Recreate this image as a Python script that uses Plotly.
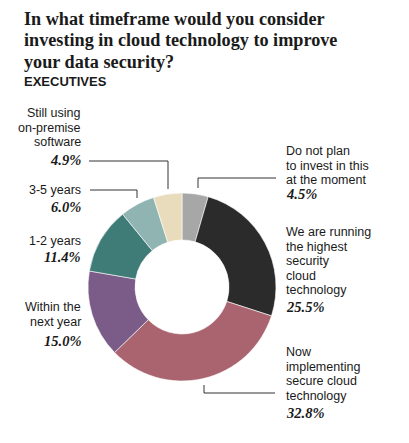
import plotly.graph_objects as go

# the page body has an 8px margin; the figure is sized to fit inside the window
OFF = 8
W, H = 409 - 2 * OFF, 443 - 2 * OFF

# ---- data ----
categories = [
    "Do not plan\nto invest in this\nat the moment",
    "We are running\nthe highest\nsecurity\ncloud\ntechnology",
    "Now\nimplementing\nsecure cloud\ntechnology",
    "Within the\nnext year",
    "1-2 years",
    "3-5 years",
    "Still using\non-premise\nsoftware",
]
values = [4.5, 25.5, 32.8, 15.0, 11.4, 6.0, 4.9]
colors = ["#a7a7a7", "#2b2b2b", "#a9646f", "#7b5b87", "#3f7c77", "#8fb4b2", "#e8dcbc"]

title_lines = ["In what timeframe would you consider",
               "investing in cloud technology to improve",
               "your data security?"]
subtitle = "EXECUTIVES"

# ---- layout helpers (window pixel -> paper) ----
def px(x):
    return (x - OFF) / W

def py(y):
    return 1 - (y - OFF) / H

cx, cy, r = 182, 287, 94

fig = go.Figure(go.Pie(
    labels=[c.replace("\n", " ") for c in categories],
    values=values,
    marker=dict(colors=colors, line=dict(color="white", width=0.6)),
    hole=0.5,
    sort=False,
    direction="clockwise",
    rotation=0,
    textinfo="none",
    hoverinfo="label+percent",
    showlegend=False,
    domain=dict(x=[px(cx - r), px(cx + r)], y=[py(cy + r), py(cy - r)]),
))

ann = []
# title
for i, t in enumerate(title_lines):
    ann.append(dict(text=t, x=px(22), y=py(19 + i * 21.5), xref="paper", yref="paper",
                    xanchor="left", yanchor="middle", showarrow=False,
                    font=dict(family="Liberation Serif", size=18.2, color="#1a1a1a", weight="bold")))
ann.append(dict(text=subtitle, x=px(22), y=py(82), xref="paper", yref="paper",
                xanchor="left", yanchor="middle", showarrow=False,
                font=dict(family="Liberation Sans", size=13, color="#1a1a1a", weight="bold")))

# label placements: (anchor x, first line y center, side, percent y center)
placements = [
    (284, 151, "left", 194),
    (284, 232, "left", 307),
    (284, 352, "left", 413),
    (83, 307, "right", 341),
    (83, 241, "right", 257),
    (83, 190, "right", 207),
    (83, 113, "right", 160),
]
LH = 14.6
for cat, val, (ax, ay, side, pyy) in zip(categories, values, placements):
    for j, line in enumerate(cat.split("\n")):
        ann.append(dict(text=line, x=px(ax), y=py(ay + j * LH), xref="paper", yref="paper",
                        xanchor=side, yanchor="middle", showarrow=False,
                        font=dict(family="Liberation Sans", size=12.5, color="#1a1a1a")))
    ann.append(dict(text=f"{val:.1f}%", x=px(ax), y=py(pyy), xref="paper", yref="paper",
                    xanchor=side, yanchor="middle", showarrow=False,
                    font=dict(family="Liberation Serif", size=14.5, color="#1a1a1a",
                              weight="bold", style="italic")))

# leader lines (pixel polylines)
leaders = [
    [(276, 178), (198, 178), (198, 188)],
    [(275, 393), (204, 393), (204, 385)],
    [(89, 161), (168, 161), (168, 189)],
    [(90, 190), (137, 190), (137, 198)],
]
shapes = []
for pts in leaders:
    path = "M " + " L ".join(f"{px(x)},{py(y)}" for x, y in pts)
    shapes.append(dict(type="path", path=path, xref="paper", yref="paper",
                       line=dict(color="#333333", width=1)))

fig.update_layout(
    width=W, height=H,
    margin=dict(l=0, r=0, t=0, b=0),
    paper_bgcolor="white", plot_bgcolor="white",
    annotations=ann, shapes=shapes,
)
fig.write_html("out.html")
